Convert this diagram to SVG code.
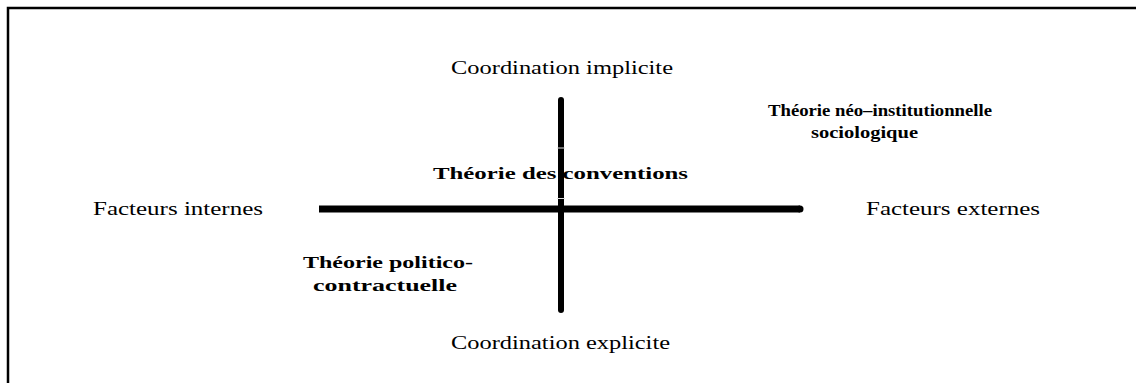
<svg xmlns="http://www.w3.org/2000/svg" width="1136" height="383" viewBox="0 0 1136 383">
<style>
.lbl{font-family:"Liberation Serif","Times New Roman",serif;font-size:19px;fill:#000}
.th{font-family:"Liberation Serif","Times New Roman",serif;font-size:17px;font-weight:bold;fill:#000}
.axis{stroke:#000;fill:none}
</style>
<rect width="1136" height="383" fill="#fff"/>
<g id="frame">
<path d="M8,383 V8 H1136" fill="none" stroke="#000" stroke-width="2.5"/>
</g>
<g id="connectors">
<line class="axis" x1="319" y1="209" x2="800" y2="209" stroke-width="7"/>
<circle cx="800" cy="209" r="3.5" fill="#000"/>
<line class="axis" x1="561" y1="100" x2="561" y2="310" stroke-width="6" stroke-linecap="round"/>
<line x1="557" y1="148" x2="565" y2="148" stroke="#ddd" stroke-width="1"/>
<line x1="557" y1="198.5" x2="565" y2="198.5" stroke="#ddd" stroke-width="1"/>
</g>
<g id="n-top"><text class="lbl" x="451" y="74" textLength="222" lengthAdjust="spacingAndGlyphs">Coordination implicite</text></g>
<g id="n-bottom"><text class="lbl" x="451" y="349" textLength="219" lengthAdjust="spacingAndGlyphs">Coordination explicite</text></g>
<g id="n-left"><text class="lbl" x="93" y="215" textLength="170" lengthAdjust="spacingAndGlyphs">Facteurs internes</text></g>
<g id="n-right"><text class="lbl" x="866" y="215" textLength="174" lengthAdjust="spacingAndGlyphs">Facteurs externes</text></g>
<g id="n-neo">
<text class="th" x="768" y="116" textLength="224" lengthAdjust="spacingAndGlyphs">Théorie néo–institutionnelle</text>
<text class="th" x="811" y="138" textLength="107" lengthAdjust="spacingAndGlyphs">sociologique</text>
</g>
<g id="n-conv"><text class="th" x="433" y="179" textLength="255" lengthAdjust="spacingAndGlyphs">Théorie des conventions</text></g>
<g id="n-pol">
<text class="th" x="303" y="268" textLength="170" lengthAdjust="spacingAndGlyphs">Théorie politico-</text>
<text class="th" x="313" y="291" textLength="144" lengthAdjust="spacingAndGlyphs">contractuelle</text>
</g>
</svg>
